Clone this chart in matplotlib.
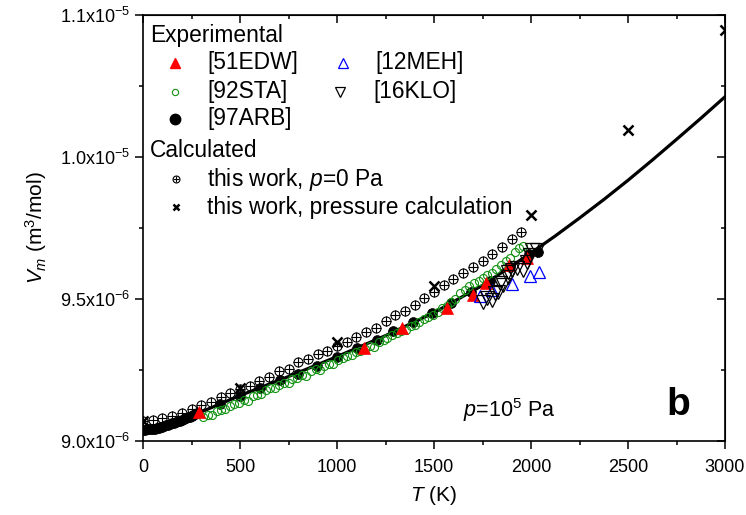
import matplotlib
matplotlib.use("Agg")
import matplotlib.pyplot as plt
from matplotlib.ticker import MultipleLocator

plt.rcParams['font.family'] = ['Liberation Sans', 'DejaVu Sans']
plt.rcParams['mathtext.fontset'] = 'custom'
plt.rcParams['mathtext.rm'] = 'Liberation Sans'
plt.rcParams['mathtext.it'] = 'Liberation Sans:italic'
plt.rcParams['mathtext.bf'] = 'Liberation Sans:bold'

E = 1e-6  # Werte unten in 1e-6 m^3/mol

# berechnete Kurve, p = 1e5 Pa
line_T = [0, 250, 500, 750, 1000, 1250, 1500, 1750, 2000, 2125, 2250, 2375, 2500, 2625,
          2750, 2875, 3000]
line_V = [9.040, 9.088, 9.160, 9.227, 9.297, 9.371, 9.452, 9.548, 9.662, 9.722, 9.785,
          9.850, 9.918, 9.989, 10.062, 10.136, 10.212]

# this work, p = 0 Pa
p0_T = [0, 50, 100, 150, 200, 250, 300, 350, 400, 450, 500, 550, 600, 650, 700, 750,
        800, 850, 900, 950, 1000, 1050, 1100, 1150, 1200, 1250, 1300, 1350, 1400, 1450,
        1500, 1550, 1600, 1650, 1700, 1750, 1800, 1850, 1900, 1950]
p0_V = [9.072, 9.074, 9.080, 9.088, 9.099, 9.112, 9.126, 9.138, 9.155, 9.168, 9.182,
        9.192, 9.212, 9.224, 9.245, 9.255, 9.278, 9.290, 9.308, 9.318, 9.336, 9.350,
        9.366, 9.383, 9.398, 9.422, 9.442, 9.458, 9.480, 9.502, 9.526, 9.548, 9.569,
        9.590, 9.612, 9.634, 9.658, 9.684, 9.710, 9.735]

# this work, pressure calculation
pc_T = [0, 500, 1000, 1500, 2000, 2500, 3000]
pc_V = [9.070, 9.187, 9.349, 9.546, 9.796, 10.095, 10.447]

# [51EDW]
edw_T = [289, 1139, 1335, 1567, 1701, 1768, 1887, 1979]
edw_V = [9.102, 9.327, 9.398, 9.468, 9.514, 9.556, 9.620, 9.644]

# [92STA]
sta_T = [310, 335, 355, 380, 400, 425, 450, 470, 495, 520, 540, 565, 590, 610, 635, 655,
         680, 700, 725, 750, 770, 795, 820, 840, 865, 890, 910, 935, 960, 980, 1005, 1030,
         1050, 1075, 1100, 1120, 1145, 1170, 1190, 1215, 1240, 1260, 1285, 1310, 1330, 1355,
         1380, 1400, 1425, 1450, 1470, 1495, 1520, 1540, 1565, 1590, 1610, 1635, 1660, 1680,
         1705, 1730, 1750, 1775, 1800, 1820, 1845, 1870, 1890, 1915, 1940, 1960]
sta_V = [9.085, 9.092, 9.090, 9.105, 9.110, 9.112, 9.125, 9.130, 9.135, 9.145, 9.142, 9.158,
         9.162, 9.165, 9.178, 9.187, 9.185, 9.198, 9.205, 9.205, 9.218, 9.222, 9.232, 9.228,
         9.245, 9.252, 9.250, 9.265, 9.272, 9.270, 9.285, 9.292, 9.300, 9.302, 9.312, 9.318,
         9.325, 9.335, 9.332, 9.348, 9.355, 9.362, 9.372, 9.380, 9.388, 9.392, 9.405, 9.410,
         9.420, 9.428, 9.438, 9.445, 9.455, 9.468, 9.475, 9.490, 9.500, 9.520, 9.530, 9.545,
         9.555, 9.565, 9.575, 9.585, 9.590, 9.605, 9.620, 9.635, 9.645, 9.665, 9.680, 9.685]

# [97ARB]
arb_T = [0, 10, 20, 30, 40, 50, 60, 70, 80, 90, 100, 110, 120, 130, 140, 150, 160, 170, 180,
         190, 200, 210, 220, 230, 240, 250, 260, 270, 280,
         397, 500, 603, 706, 799, 897, 1000, 1103, 1206, 1289, 1392, 1490, 1590, 1690, 1790,
         1890, 1990, 2036]
arb_V = [9.040, 9.040, 9.041, 9.041, 9.042, 9.043, 9.044, 9.045, 9.047, 9.049, 9.051, 9.053,
         9.055, 9.057, 9.060, 9.062, 9.065, 9.067, 9.070, 9.072, 9.075, 9.078, 9.080, 9.083,
         9.086, 9.088, 9.091, 9.094, 9.097,
         9.132, 9.160, 9.187, 9.215, 9.237, 9.264, 9.296, 9.326, 9.356, 9.386, 9.419, 9.451,
         9.485, 9.523, 9.565, 9.612, 9.658, 9.666]

# [12MEH]
meh_T = [1737, 1799, 1900, 1995, 2041]
meh_V = [9.511, 9.530, 9.552, 9.581, 9.595]

# [16KLO]
klo_T = [1755, 1775, 1800, 1812, 1830, 1840, 1856, 1881, 1881, 1902, 1928, 1959, 1979, 1995,
         2005, 2031]
klo_V = [9.490, 9.505, 9.496, 9.520, 9.525, 9.556, 9.549, 9.577, 9.595, 9.602, 9.609, 9.602,
         9.630, 9.655, 9.673, 9.673]

y_ticks = [9.0, 9.5, 10.0, 10.5]
y_labels = ['9.0x10$^{-6}$', '9.5x10$^{-6}$', '1.0x10$^{-5}$', '1.1x10$^{-5}$']


def sc(v):
    return [x * E for x in v]


fig = plt.figure(figsize=(7.46, 5.15), dpi=100)
ax = fig.add_axes([143 / 746, 74 / 515, 582 / 746, 426 / 515])

ax.plot(line_T, sc(line_V), '-', color='black', lw=2.3, zorder=2)
ax.plot(arb_T, sc(arb_V), 'o', ms=7, mfc='black', mec='black', mew=0.6, zorder=3)
ax.plot(sta_T, sc(sta_V), 'o', ms=5.8, mfc='none', mec='#129212', mew=0.8, zorder=4)
ax.plot(p0_T, sc(p0_V), 'o', ms=6.5, mfc='none', mec='black', mew=0.8, zorder=4)
ax.plot(p0_T, sc(p0_V), '+', ms=6.5, mec='black', mew=0.8, zorder=4)
ax.plot(edw_T, sc(edw_V), '^', ms=9, mfc='red', mec='red', mew=0.5, zorder=5)
ax.plot(meh_T, sc(meh_V), '^', ms=9, mfc='none', mec='blue', mew=0.9, zorder=6)
ax.plot(klo_T, sc(klo_V), 'v', ms=9.5, mfc='none', mec='black', mew=0.9, zorder=6)
ax.plot(pc_T, sc(pc_V), 'x', ms=6.5, mec='black', mew=1.8, zorder=7)

ax.set_xlim(0, 3000)
ax.set_ylim(9.0e-6, 1.05e-5)
ax.xaxis.set_major_locator(MultipleLocator(500))
ax.xaxis.set_minor_locator(MultipleLocator(250))
ax.set_yticks(sc(y_ticks))
ax.set_yticklabels(y_labels)
ax.yaxis.set_minor_locator(MultipleLocator(0.25e-6))
ax.tick_params(which='major', direction='out', length=6, width=1.1, labelsize=13, pad=3)
ax.tick_params(axis='x', which='major', pad=7)
ax.tick_params(which='minor', direction='out', length=3, width=1.1)
for s in ax.spines.values():
    s.set_linewidth(1.2)

top = ax.secondary_xaxis('top')
top.xaxis.set_major_locator(MultipleLocator(500))
top.xaxis.set_minor_locator(MultipleLocator(250))
top.tick_params(which='major', direction='in', length=6, width=1.1, labeltop=False)
top.tick_params(which='minor', direction='in', length=3, width=1.1)
right = ax.secondary_yaxis('right')
right.set_yticks(sc(y_ticks))
right.yaxis.set_minor_locator(MultipleLocator(0.25e-6))
right.tick_params(which='major', direction='in', length=6, width=1.1, labelright=False)
right.tick_params(which='minor', direction='in', length=3, width=1.1)

ax.set_xlabel('$T$ (K)', fontsize=15, labelpad=6)
ax.set_ylabel('$V_m$ (m$^3$/mol)', fontsize=15, labelpad=8)

ax.text(0.55, 0.073, '$p$=10$^5$ Pa', transform=ax.transAxes, fontsize=15.5, va='center')
ax.text(0.919, 0.085, 'b', transform=ax.transAxes, fontsize=28, fontweight='bold',
        ha='center', va='center')

# Legende von Hand
fs = 16.4
tr = ax.transAxes
ax.text(0.012, 0.953, 'Experimental', transform=tr, fontsize=fs, va='center')
ax.plot([0.055], [0.888], '^', transform=tr, ms=7.5, mfc='red', mec='red', clip_on=False)
ax.text(0.110, 0.888, '[51EDW]', transform=tr, fontsize=fs, va='center')
ax.plot([0.344], [0.888], '^', transform=tr, ms=7, mfc='none', mec='blue', mew=0.9)
ax.text(0.400, 0.888, '[12MEH]', transform=tr, fontsize=fs, va='center')
ax.plot([0.055], [0.820], 'o', transform=tr, ms=4.5, mfc='white', mec='#129212', mew=0.8)
ax.text(0.110, 0.820, '[92STA]', transform=tr, fontsize=fs, va='center')
ax.plot([0.338], [0.820], 'v', transform=tr, ms=7, mfc='none', mec='black', mew=0.9)
ax.text(0.395, 0.820, '[16KLO]', transform=tr, fontsize=fs, va='center')
ax.plot([0.055], [0.756], 'o', transform=tr, ms=7.5, mfc='black', mec='black')
ax.text(0.110, 0.756, '[97ARB]', transform=tr, fontsize=fs, va='center')
ax.text(0.012, 0.683, 'Calculated', transform=tr, fontsize=fs, va='center')
ax.plot([0.057], [0.615], 'o', transform=tr, ms=5, mfc='white', mec='black', mew=0.8)
ax.plot([0.057], [0.615], '+', transform=tr, ms=5, mec='black', mew=0.8)
ax.text(0.110, 0.615, 'this work, $p$=0 Pa', transform=tr, fontsize=fs, va='center')
ax.plot([0.057], [0.549], 'x', transform=tr, ms=5, mec='black', mew=1.8)
ax.text(0.110, 0.549, 'this work, pressure calculation', transform=tr, fontsize=fs,
        va='center')

fig.savefig('out.png', dpi=100)
